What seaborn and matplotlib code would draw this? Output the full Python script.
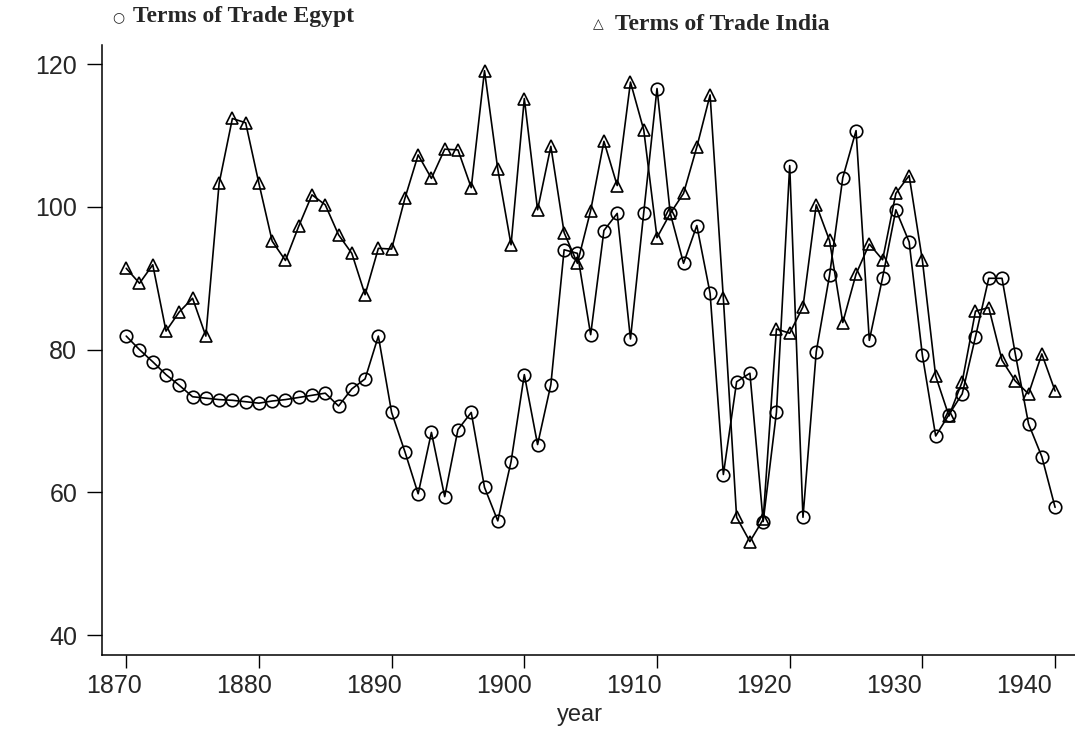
import matplotlib
matplotlib.use("Agg")
import matplotlib.pyplot as plt
import matplotlib.transforms as mtransforms
import seaborn as sns
import pandas as pd

# --- data ---
years = list(range(1870, 1941))
egypt = [81.9, 80.0, 78.3, 76.5, 75.0, 73.4, 73.2, 73.0, 72.9, 72.7,
         72.5, 72.8, 73.0, 73.3, 73.6, 73.9, 72.1, 74.5, 75.9, 81.9,
         71.2, 65.7, 59.8, 68.4, 59.4, 68.8, 71.2, 60.7, 56.0, 64.3,
         76.5, 66.7, 75.1, 94.0, 93.5, 82.1, 96.7, 99.1, 81.5, 99.2,
         116.6, 99.1, 92.1, 97.4, 87.9, 62.5, 75.5, 76.7, 55.9, 71.2,
         105.8, 56.5, 79.7, 90.4, 104.1, 110.7, 81.3, 90.1, 99.6, 95.1,
         79.2, 67.9, 70.9, 73.8, 81.8, 90.0, 90.0, 79.4, 69.6, 65.0,
         57.9]
india = [91.4, 89.3, 91.9, 82.6, 85.3, 87.2, 81.9, 103.3, 112.4, 111.8,
         103.3, 95.2, 92.5, 97.3, 101.7, 100.3, 96.1, 93.5, 87.7, 94.2,
         94.1, 101.2, 107.3, 104.0, 108.1, 108.0, 102.7, 119.1, 105.3, 94.7,
         115.2, 99.6, 108.5, 96.4, 92.1, 99.5, 109.2, 103.0, 117.5, 110.8,
         95.7, 99.1, 101.9, 108.4, 115.7, 87.2, 56.5, 53.1, 56.2, 82.9,
         82.3, 86.0, 100.3, 95.3, 83.8, 90.6, 94.8, 92.6, 101.9, 104.4,
         92.5, 76.3, 70.7, 75.5, 85.4, 85.9, 78.5, 75.6, 73.8, 79.4,
         74.2]
x_ticks = [1870, 1880, 1890, 1900, 1910, 1920, 1930, 1940]
y_ticks = [40, 60, 80, 100, 120]

df = pd.DataFrame({
    "year": years * 2,
    "value": egypt + india,
    "series": ["Egypt"] * len(years) + ["India"] * len(years),
})

sns.set_style("ticks")
plt.rcParams["font.family"] = ["Liberation Sans", "DejaVu Sans"]

fig = plt.figure(figsize=(10.75, 7.33), dpi=100)
ax = fig.add_axes([0.0952, 0.1064, 0.9048, 0.8322])

sns.lineplot(data=df, x="year", y="value", style="series",
             markers={"Egypt": "o", "India": "^"}, dashes=False,
             color="black", linewidth=1.2, markersize=9,
             markerfacecolor="none", markeredgecolor="black",
             markeredgewidth=1.2, legend=False, ax=ax)

ax.set_xlim(1868.2, 1941.5)
ax.set_ylim(37.2, 122.7)
ax.set_xticks(x_ticks)
ax.set_yticks(y_ticks)
ax.tick_params(axis="both", labelsize=18, width=1, color="black")
ax.tick_params(axis="y", length=11, pad=7)
ax.tick_params(axis="x", length=9.5, pad=4)
ax.set_xlabel("year", fontsize=17)
ax.xaxis.set_label_coords(0.491, -0.08)
ax.set_ylabel("")
sns.despine(ax=ax)
for s in ["left", "bottom"]:
    ax.spines[s].set_linewidth(1.1)
    ax.spines[s].set_color("black")

# the scanned year labels drift left of their ticks
n = len(x_ticks)
for i, lab in enumerate(ax.get_xticklabels()):
    dx = -(12 + 19 * i / (n - 1)) / 100.0
    lab.set_transform(lab.get_transform() +
                      mtransforms.ScaledTranslation(dx, 0, fig.dpi_scale_trans))

# header legend
fig.text(0.104, 0.977, "\u25cb", fontsize=10, ha="left", va="center",
         family=["DejaVu Sans"])
fig.text(0.124, 0.977, "Terms of Trade Egypt", fontsize=17, fontweight="bold",
         ha="left", va="center", family=["Liberation Serif"])
fig.text(0.552, 0.967, "\u25b3", fontsize=10, ha="left", va="center",
         family=["DejaVu Sans"])
fig.text(0.572, 0.967, "Terms of Trade India", fontsize=17, fontweight="bold",
         ha="left", va="center", family=["Liberation Serif"])

fig.savefig("out.png", dpi=100)
